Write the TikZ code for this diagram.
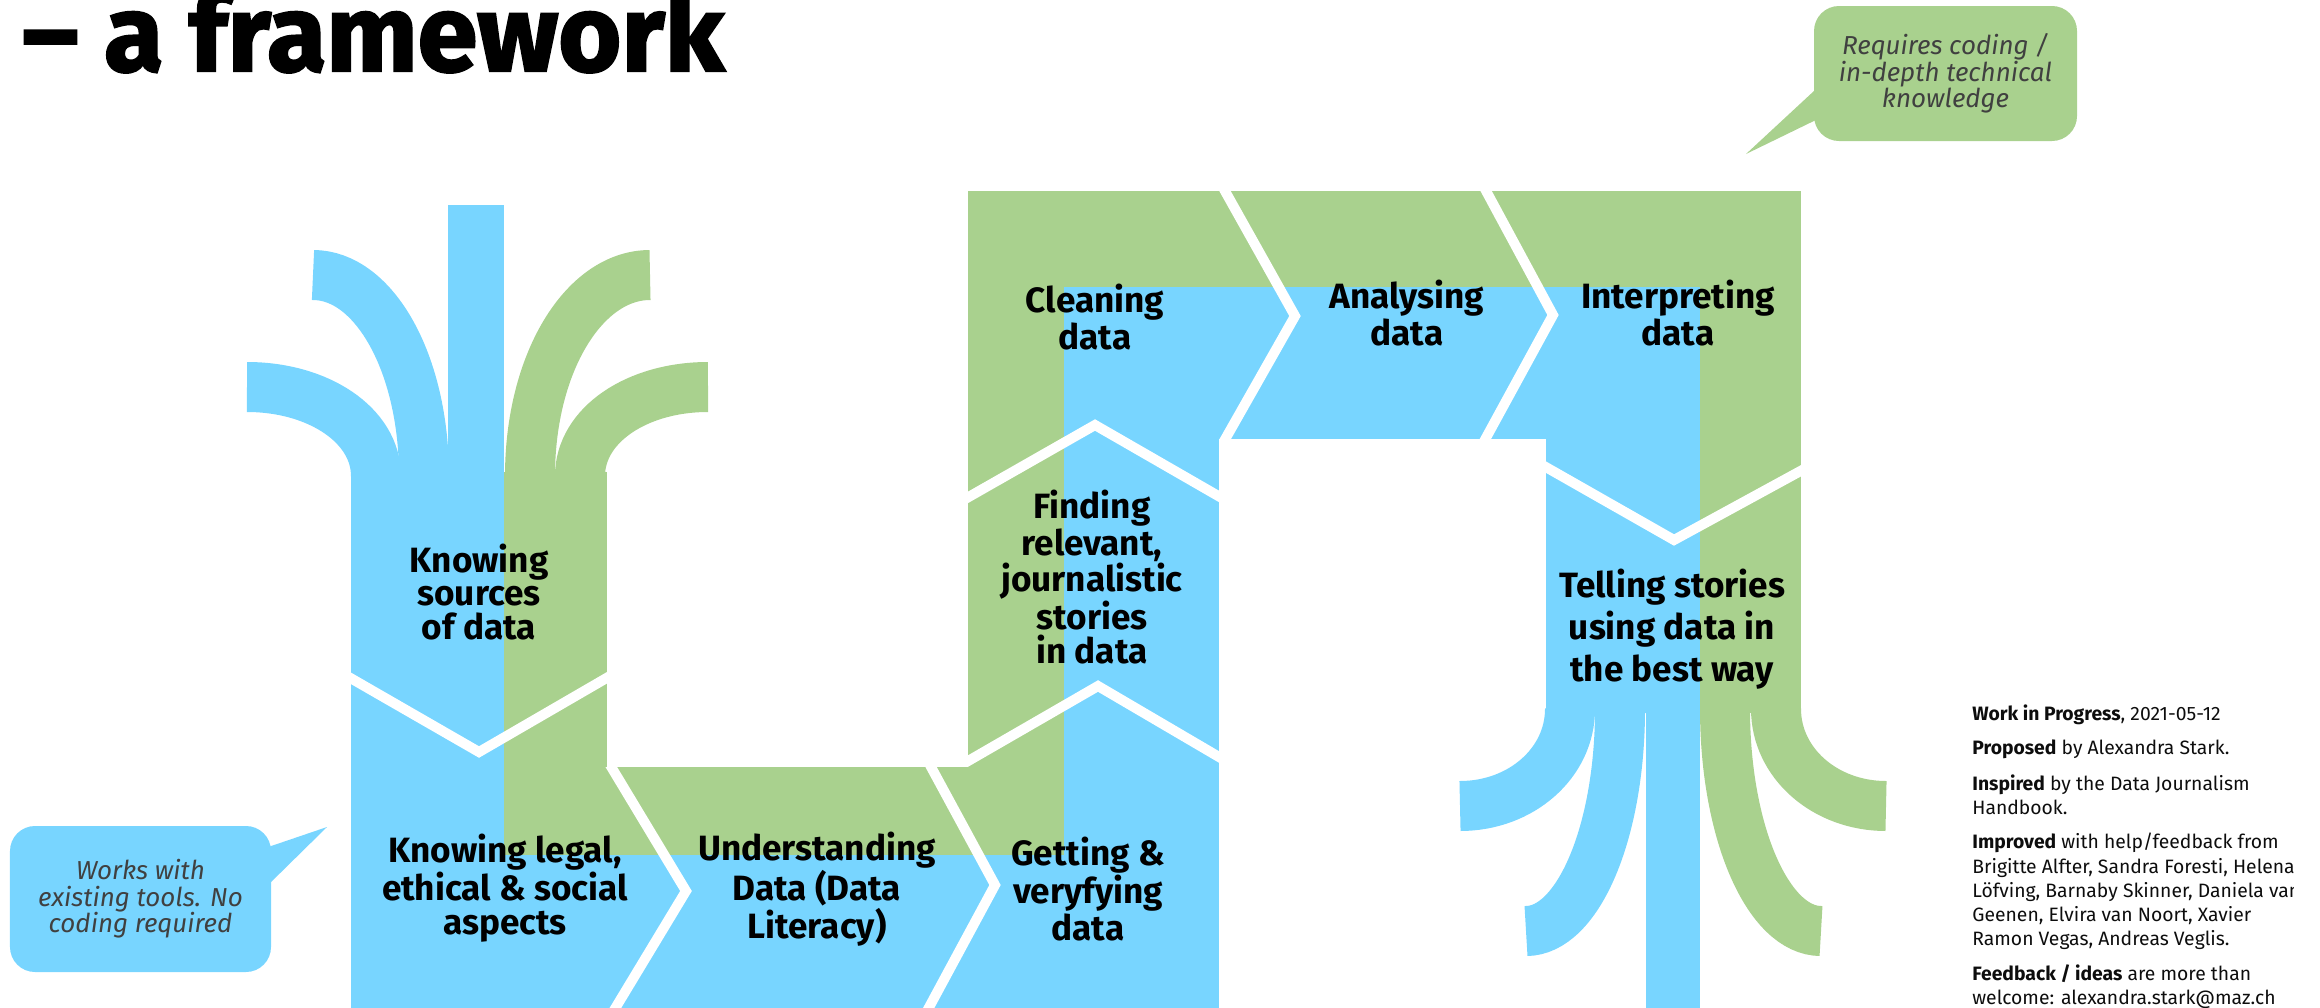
\documentclass[tikz,border=0pt]{standalone}
\usepackage{fontspec}
\setmainfont{Fira Sans}
\newfontfamily\headfont[BoldFeatures={FakeBold=2}]{Fira Sans}
\usetikzlibrary{positioning}

\definecolor{laneblue}{RGB}{120,213,255}
\definecolor{lanegreen}{RGB}{169,209,142}
\definecolor{tipgrey}{RGB}{64,64,64}

\begin{document}
\begin{tikzpicture}[x=0.2mm, y=-0.2mm,
		stage/.style={font=\bfseries\fontsize{20}{19}\selectfont, align=center, inner sep=0},
		twig/.style={line width=10mm},
		seam/.style={draw=white, line width=2mm},
		bubble/.style={rounded corners=5mm, inner sep=0, align=center, text=tipgrey, font=\itshape\fontsize{14.8}{15.1}\selectfont},
		remark/.style={anchor=north west, align=left, inner sep=0, text=black!95, font=\fontsize{11}{13.7}\selectfont}]

	\useasboundingbox (0, 0) rectangle (2320, 1007);
	\clip (0, 0) rectangle (2320, 1007);

	% outer (green) lane
	\fill[lanegreen] (504, 472) rectangle (607, 855);
	\fill[lanegreen] (504, 767) rectangle (1064, 855);
	\fill[lanegreen] (968, 191) rectangle (1064, 855);
	\fill[lanegreen] (968, 191) rectangle (1801, 287);
	\fill[lanegreen] (1700, 191) rectangle (1801, 713);

	% inner (blue) lane
	\fill[laneblue] (351, 472) rectangle (504, 1020);
	\fill[laneblue] (351, 855) rectangle (1219, 1020);
	\fill[laneblue] (1064, 287) rectangle (1219, 1020);
	\fill[laneblue] (1064, 287) rectangle (1700, 439);
	\fill[laneblue] (1546, 287) rectangle (1700, 713);

	% branches on top of the first column
	\fill[laneblue] (448, 205) rectangle (504, 476);
	\draw[twig, laneblue] (247, 387) .. controls (318, 387) and (376, 425) .. (376, 476);
	\draw[twig, laneblue] (313, 275) .. controls (374, 275) and (424, 363) .. (424, 476);
	\draw[twig, lanegreen] (650, 275) .. controls (584, 275) and (530, 363) .. (530, 476);
	\draw[twig, lanegreen] (708, 387) .. controls (637, 387) and (580, 425) .. (580, 476);

	% roots under the last column
	\fill[laneblue] (1646, 709) rectangle (1700, 1010);
	\draw[twig, laneblue] (1570, 709) .. controls (1570, 763) and (1521, 806) .. (1460, 806);
	\draw[twig, laneblue] (1620, 709) .. controls (1620, 832) and (1578, 931) .. (1526, 931);
	\draw[twig, lanegreen] (1725, 709) .. controls (1725, 832) and (1768, 931) .. (1821, 931);
	\draw[twig, lanegreen] (1776, 709) .. controls (1776, 763) and (1825, 806) .. (1886, 806);

	% white seams between the steps
	\begin{scope}
		\clip (351, 472) rectangle (607, 1007);
		\draw[seam] (300, 649) -- (479, 752) -- (660, 647);
	\end{scope}
	\begin{scope}
		\clip (504, 767) rectangle (1219, 1030);
		\draw[seam] (589, 730) -- (686, 891) -- (590, 1050);
		\draw[seam] (911, 730) -- (995, 885) -- (906, 1050);
	\end{scope}
	\begin{scope}
		\clip (968, 191) rectangle (1219, 1030);
		\draw[seam] (930, 783) -- (1098, 686) -- (1260, 781);
		\draw[seam] (930, 519) -- (1095, 425) -- (1260, 520);
	\end{scope}
	\begin{scope}
		\clip (968, 191) rectangle (1801, 439);
		\draw[seam] (1202, 150) -- (1295, 316) -- (1202, 480);
		\draw[seam] (1464, 150) -- (1553, 315) -- (1463, 480);
	\end{scope}
	\begin{scope}
		\clip (1546, 191) rectangle (1801, 713);
		\draw[seam] (1500, 441) -- (1674, 540) -- (1850, 444);
	\end{scope}

	% step labels
	\node[stage] (sources) at (479, 592) {Knowing\\sources\\of data};
	\node[stage] (legal) at (505, 888) {Knowing legal,\\ethical \& social\\aspects};
	\node[stage] (literacy) at (817, 889) {Understanding\\Data (Data\\Literacy)};
	\node[stage] (getting) at (1088, 889) {Getting \&\\veryfying\\data};
	\node[stage] (finding) at (1092, 577) {Finding\\relevant,\\journalistic\\stories\\in data};
	\node[stage] (cleaning) at (1095, 317) {Cleaning\\data};
	\node[stage] (analysing) at (1407, 313) {Analysing\\data};
	\node[stage] (interpreting) at (1678, 313) {Interpreting\\data};
	\node[stage, font=\bfseries\fontsize{20}{24}\selectfont] (telling) at (1672, 629) {Telling stories\\using data in\\the best way};

	% speech bubbles
	\node[bubble, fill=laneblue, minimum width=52.2mm, minimum height=29.2mm] (notools) at (140.5, 899) {Works with\\existing tools. No\\coding required};
	\coordinate (notools tip) at (327, 827);
	\fill[laneblue] ([xshift=-1mm, yshift=-4.4mm]notools.north east) -- (notools tip) -- ([xshift=-1mm, yshift=-12.2mm]notools.north east) -- cycle;

	\node[bubble, fill=lanegreen, minimum width=52.6mm, minimum height=27mm] (coding) at (1945.5, 73.5) {Requires coding /\\in-depth technical\\knowledge};
	\coordinate (coding tip) at (1746, 154);
	\fill[lanegreen] ([xshift=1mm, yshift=-16.2mm]coding.north west) -- (coding tip) -- ([xshift=1mm, yshift=-22.6mm]coding.north west) -- cycle;

	% notes on the right
	\begin{scope}
		\clip (1960, 690) rectangle (2293, 1007);
		\node[remark] (progress) at (1972, 704) {\textbf{Work in Progress}, 2021-05-12};
		\node[remark] (proposed) at (1972, 739) {\textbf{Proposed} by Alexandra Stark.};
		\node[remark] (inspired) at (1972, 774) {\textbf{Inspired} by the Data Journalism\\Handbook.};
		\node[remark] (improved) at (1972, 833) {\textbf{Improved} with help/feedback from\\Brigitte Alfter, Sandra Foresti, Helena\\Löfving, Barnaby Skinner, Daniela van\\Geenen, Elvira van Noort, Xavier\\Ramon Vegas, Andreas Veglis.};
		\node[remark] (feedback) at (1972, 964) {\textbf{Feedback / ideas} are more than\\welcome: alexandra.stark@maz.ch};
	\end{scope}

	% heading
	\node[anchor=base west, inner sep=0, font=\headfont\bfseries\fontsize{61.5}{61.5}\selectfont] (heading) at (22, 71) {\textendash{} a framework};
\end{tikzpicture}
\end{document}
